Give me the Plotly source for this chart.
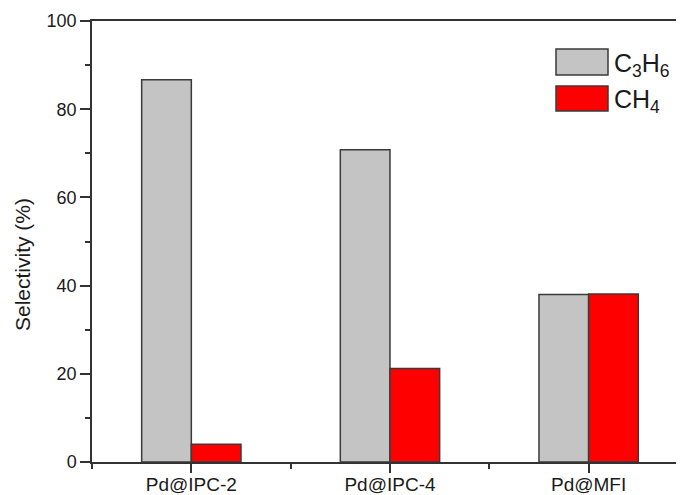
import plotly.graph_objects as go

categories = ["Pd@IPC-2", "Pd@IPC-4", "Pd@MFI"]
c3h6 = [86.7, 70.8, 38.0]
ch4 = [4.0, 21.2, 38.1]
yticks = [0, 20, 40, 60, 80, 100]

# page has an 8px body margin; figure is sized/offset to compensate
OFF = 8
W, H = 684 - OFF, 495 - OFF
L, R, T, B = 92, 684, 21, 462   # plot area in page pixels

def px(x):
    return (x - L) / (R - L)

def py(y):
    return (B - y) / (B - T)

xpos = list(range(len(categories)))
outline = dict(color="#3a3a3a", width=1.5)

fig = go.Figure()
fig.add_trace(go.Bar(x=xpos, y=c3h6, name="C3H6", marker=dict(color="#c4c4c4", line=outline)))
fig.add_trace(go.Bar(x=xpos, y=ch4, name="CH4", marker=dict(color="#ff0000", line=outline)))

axcol = "#333333"
fig.update_layout(
    width=W, height=H,
    margin=dict(l=L - OFF, r=0, t=T - OFF, b=495 - B, autoexpand=False),
    plot_bgcolor="white", paper_bgcolor="white",
    barmode="group", bargap=0.5, bargroupgap=0,
    showlegend=False,
    font=dict(family="Liberation Sans, Arial, sans-serif", size=18, color="#1a1a1a"),
    xaxis=dict(
        range=[-0.5, 2.48], tickmode="array", tickvals=xpos, ticktext=categories,
        showline=True, linecolor=axcol, linewidth=1.5, mirror=True, automargin=False,
        ticks="outside", ticklen=9, tickwidth=1.5, tickcolor=axcol, ticklabelstandoff=-5,
        minor=dict(tickvals=[-0.5, 0.5, 1.5, 2.5], ticks="outside", ticklen=5, tickwidth=1.5, tickcolor=axcol),
        showgrid=False, zeroline=False, tickfont=dict(size=19),
    ),
    yaxis=dict(
        range=[0, 100], tickmode="array", tickvals=yticks, automargin=False,
        showline=True, linecolor=axcol, linewidth=1.5,
        ticks="outside", ticklen=10, tickwidth=1.5, tickcolor=axcol,
        minor=dict(dtick=10, tick0=0, ticks="outside", ticklen=5, tickwidth=1.5, tickcolor=axcol),
        showgrid=False, zeroline=False, tickfont=dict(size=18),
    ),
)

# legend drawn manually
fig.add_shape(type="rect", xref="paper", yref="paper", x0=px(556), x1=px(608), y0=py(75), y1=py(49),
              fillcolor="#c4c4c4", line=dict(color="#3a3a3a", width=1.5))
fig.add_shape(type="rect", xref="paper", yref="paper", x0=px(556), x1=px(608), y0=py(111), y1=py(86),
              fillcolor="#ff0000", line=dict(color="#3a3a3a", width=1.5))
fig.add_annotation(xref="paper", yref="paper", x=px(612), y=py(65), xanchor="left", yanchor="middle",
                   text="C<sub>3</sub>H<sub>6</sub>", showarrow=False, font=dict(size=25))
fig.add_annotation(xref="paper", yref="paper", x=px(612), y=py(101), xanchor="left", yanchor="middle",
                   text="CH<sub>4</sub>", showarrow=False, font=dict(size=25))
fig.add_annotation(xref="paper", yref="paper", x=px(22), y=py(265), xanchor="center", yanchor="middle",
                   text="Selectivity (%)", textangle=-90, showarrow=False, font=dict(size=21))

fig.write_html("out.html")
